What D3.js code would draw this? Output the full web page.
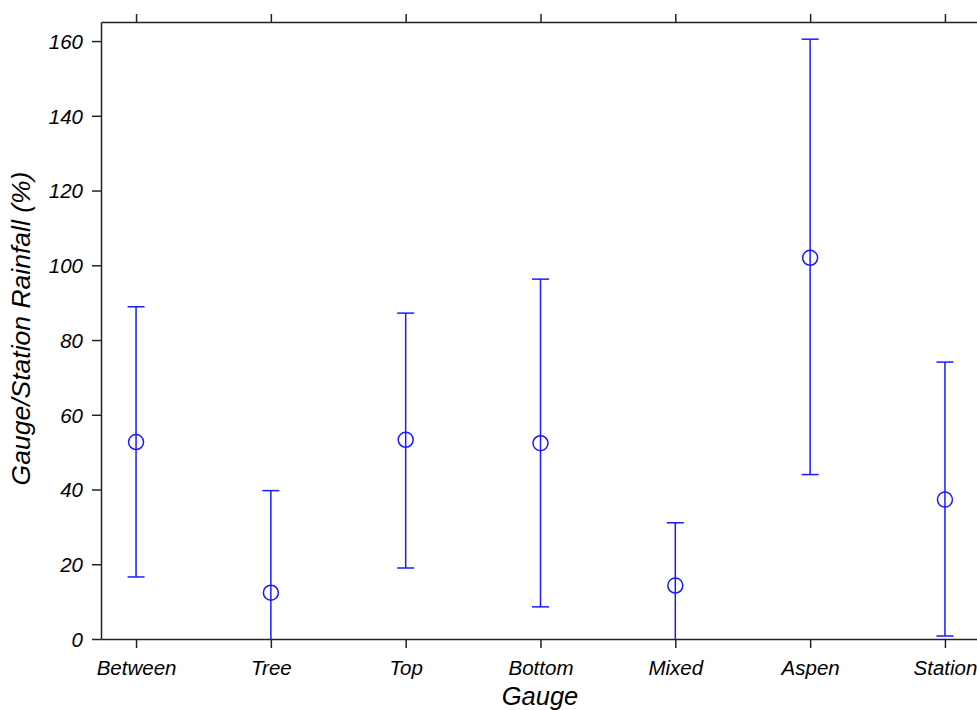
<!DOCTYPE html>
<html>
<head>
<meta charset="utf-8">
<script src="https://cdn.jsdelivr.net/npm/d3@7"></script>
<style>
  html, body { margin: 0; padding: 0; background: #fff; overflow: hidden; }
  svg { display: block; }
  text { font-family: "Liberation Sans", Arial, sans-serif; font-style: italic; fill: #000; }
</style>
</head>
<body>
<svg id="chart" width="977" height="710"></svg>
<script>
// Gauge categories and rainfall ratio statistics (% of station rainfall)
const gauges = ["Between", "Tree", "Top", "Bottom", "Mixed", "Aspen", "Station"];
const means  = [52.7, 12.4, 53.3, 52.4, 14.3, 102.0, 37.3];
const upper  = [88.9, 39.7, 87.2, 96.3, 31.1, 160.5, 74.1];
const lower  = [16.6, -12.0, 19.0, 8.6, -3.0, 44.0, 0.8];
const yTicks = [0, 20, 40, 60, 80, 100, 120, 140, 160];

const svg = d3.select("#chart");
const plotLeft = 101, plotRight = 980, plotTop = 22, plotBottom = 639;

const x = d3.scaleLinear().domain([-0.26, gauges.length - 1 + 0.26]).range([plotLeft, plotRight]);
const y = d3.scaleLinear().domain([0, 165.1]).range([plotBottom, plotTop]);

const clipId = "plotClip";
svg.append("clipPath").attr("id", clipId)
  .append("rect").attr("x", plotLeft).attr("y", plotTop)
  .attr("width", plotRight - plotLeft).attr("height", plotBottom - plotTop);

// Frame axes
const axisColor = "#222";
const tickFont = 20.5;
const bottomAxis = d3.axisBottom(x).tickValues(d3.range(gauges.length))
  .tickFormat(i => gauges[i]).tickSize(9).tickSizeOuter(0).tickPadding(12);
const topAxis = d3.axisTop(x).tickValues(d3.range(gauges.length))
  .tickFormat("").tickSize(8).tickSizeOuter(0);
const leftAxis = d3.axisLeft(y).tickValues(yTicks).tickSize(9).tickSizeOuter(0).tickPadding(9);

function styleAxis(g) {
  g.select(".domain").attr("stroke", axisColor).attr("stroke-width", 1.5);
  g.selectAll(".tick line").attr("stroke", axisColor).attr("stroke-width", 1.5);
  g.selectAll("text").attr("font-size", tickFont).attr("fill", "#000")
    .style("font-family", '"Liberation Sans", Arial, sans-serif').style("font-style", "italic");
}

svg.append("g").attr("transform", `translate(0,${plotBottom})`).call(bottomAxis).call(styleAxis);
svg.append("g").attr("transform", `translate(0,${plotTop})`).call(topAxis).call(styleAxis);
svg.append("g").attr("transform", `translate(${plotLeft},0)`).call(leftAxis).call(styleAxis)
  .selectAll("text").attr("dy", "0.36em");

// Error bars and mean markers
const blue = "#1a1aff";
const plot = svg.append("g").attr("clip-path", `url(#${clipId})`);
const capHalf = 8.5;
const groups = plot.selectAll("g.bar").data(gauges.map((g, i) => ({ g, i })))
  .join("g").attr("class", "bar");

groups.append("line")
  .attr("x1", d => x(d.i)).attr("x2", d => x(d.i))
  .attr("y1", d => y(lower[d.i])).attr("y2", d => y(upper[d.i]))
  .attr("stroke", blue).attr("stroke-width", 1.5);
groups.append("line")
  .attr("x1", d => x(d.i) - capHalf).attr("x2", d => x(d.i) + capHalf)
  .attr("y1", d => y(upper[d.i])).attr("y2", d => y(upper[d.i]))
  .attr("stroke", blue).attr("stroke-width", 1.5);
groups.filter(d => lower[d.i] >= 0).append("line")
  .attr("x1", d => x(d.i) - capHalf).attr("x2", d => x(d.i) + capHalf)
  .attr("y1", d => y(lower[d.i])).attr("y2", d => y(lower[d.i]))
  .attr("stroke", blue).attr("stroke-width", 1.5);
groups.append("circle")
  .attr("cx", d => x(d.i)).attr("cy", d => y(means[d.i])).attr("r", 7.5)
  .attr("fill", "none").attr("stroke", blue).attr("stroke-width", 1.5);

// Axis titles
svg.append("text").attr("x", 540).attr("y", 705).attr("text-anchor", "middle")
  .attr("font-size", 25.5).text("Gauge");
svg.append("text").attr("transform", `translate(30,${(plotTop + plotBottom) / 2 - 2}) rotate(-90)`)
  .attr("text-anchor", "middle").attr("font-size", 26.5).text("Gauge/Station Rainfall (%)");
</script>
</body>
</html>
